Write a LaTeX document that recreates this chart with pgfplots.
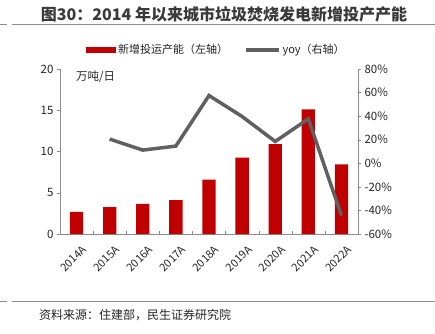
\documentclass[border=0pt]{standalone}
\usepackage{pgfplots}
\pgfplotsset{compat=1.18}
\usepackage{fontspec}
\setmainfont{Noto Sans CJK SC}
\definecolor{barred}{HTML}{C00000}
\definecolor{linegray}{HTML}{606060}
\definecolor{axgray}{HTML}{8C8C8C}
\definecolor{txt}{HTML}{262626}
\definecolor{titlegray}{HTML}{3A3A3A}
\begin{document}
\begin{tikzpicture}[x=1pt,y=1pt]
\path[use as bounding box, fill=white] (0,0) rectangle (435,-333);
\node[font=\bfseries\fontsize{16}{18}\selectfont, text=titlegray] at (224,-14) {图30：2014 年以来城市垃圾焚烧发电新增投产产能};
\draw[axgray, line width=1pt] (0,-24) -- (7,-24) (12,-24) -- (435,-24);
\draw[axgray, line width=1pt] (0,-301) -- (7,-301) (12,-301) -- (435,-301);
\node[anchor=west, font=\fontsize{12}{14}\selectfont, text=txt, inner sep=0pt] at (39,-315) {资料来源：住建部，民生证券研究院};
\node[anchor=west, font=\fontsize{11.5}{13}\selectfont, text=txt, inner sep=0pt] at (76,-77) {万吨/日};
\begin{axis}[
  at={(60pt,-234pt)}, anchor=south west,
  scale only axis, width=298pt, height=165pt,
  xmin=-0.5, xmax=8.5, ymin=0, ymax=20,
  ytick={0,5,10,15,20},
  xtick={0,...,8},
  xticklabels={2014A,2015A,2016A,2017A,2018A,2019A,2020A,2021A,2022A},
  x tick label style={rotate=45, anchor=north east, inner sep=0pt, yshift=-11pt, xshift=-4pt, font=\fontsize{11}{12}\selectfont},
  major x tick style={draw=none},
  minor xtick={-0.5,0.5,...,8.5},
  minor x tick style={axgray},
  minor tick length=3pt,
  major tick length=3pt,
  y tick style={axgray},
  ytick align=outside,
  xtick align=inside,
  axis x line*=bottom, axis y line*=left,
  axis line style={axgray, line width=0.8pt, -},
  tick label style={font=\fontsize{11.5}{13}\selectfont, text=txt},
  /pgf/number format/assume math mode=true,
  legend style={at={(0.525,1.115)}, anchor=center, draw=none, fill=none,
    legend columns=2, font=\fontsize{11}{13}\selectfont, text=txt,
    /tikz/every even column/.append style={column sep=14pt}},
]
\addplot[ybar, bar width=13.3pt, fill=barred, draw=none,
  legend image code/.code={\fill[barred] (0pt,-3pt) rectangle (30pt,3pt);}]
  coordinates {(0,2.68) (1,3.25) (2,3.64) (3,4.12) (4,6.58) (5,9.25) (6,10.9) (7,15.1) (8,8.45)};
\addlegendentry{新增投运产能（左轴）}
\addlegendimage{legend image code/.code={\draw[line width=3.5pt, linegray] (0pt,0pt) -- (33pt,0pt);}}
\addlegendentry{yoy（右轴）}
\end{axis}
\begin{axis}[
  at={(60pt,-234pt)}, anchor=south west,
  scale only axis, width=298pt, height=165pt,
  xmin=-0.5, xmax=8.5, ymin=-60, ymax=80,
  ytick={-60,-40,...,80},
  yticklabel={\pgfmathprintnumber{\tick}\%},
  axis x line=none, axis y line*=right,
  axis line style={axgray, line width=0.8pt, -},
  y tick style={axgray},
  ytick align=outside,
  major tick length=3pt,
  tick label style={font=\fontsize{11.5}{13}\selectfont, text=txt},
  /pgf/number format/assume math mode=true,
]
\addplot[line width=3.5pt, linegray, mark=none]
  coordinates {(1,20.5) (2,11.2) (3,14.6) (4,57.5) (5,39.7) (6,18.5) (7,37.7) (8,-44.3)};
\end{axis}
\end{tikzpicture}
\end{document}
